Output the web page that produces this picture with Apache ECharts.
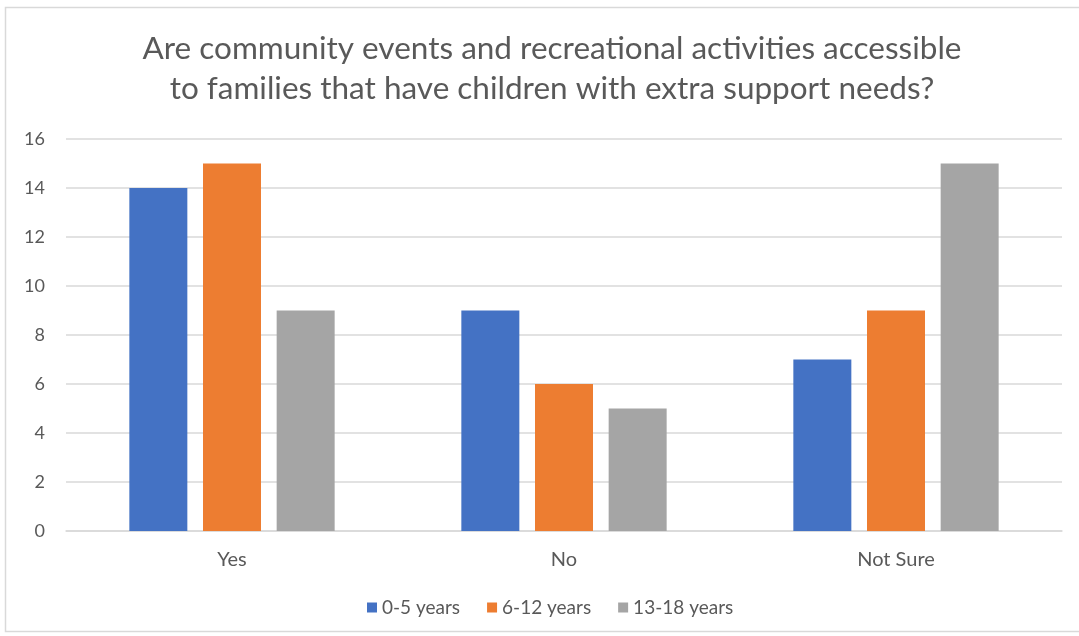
<!DOCTYPE html>
<html>
<head>
<meta charset="utf-8">
<script src="https://cdn.jsdelivr.net/npm/echarts@6/dist/echarts.min.js"></script>
<style>
	html, body { margin: 0; padding: 0; background: #fff; }
	#draw { width: 1079px; height: 636px; }
</style>
</head>
<body>
<div id="draw"></div>
<script>
// data
var categories = ['Yes', 'No', 'Not Sure'];
var seriesNames = ['0-5 years', '6-12 years', '13-18 years'];
var age0to5 = [14, 9, 7];
var age6to12 = [15, 6, 9];
var age13to18 = [9, 5, 15];
var colors = ['#4472C4', '#ED7D31', '#A5A5A5'];

var myChart = echarts.init(document.getElementById('draw'));
var font = 'Lato, "Open Sans", sans-serif';

var makeSeries = function(name, values, color) {
	return {
		name : name,
		type : 'bar',
		data : values,
		barWidth : 58,
		barGap : '27%',
		itemStyle : { color : color }
	};
};

option = {
	animation : false,
	textStyle : { fontFamily : font },
	graphic : [ {
		type : 'rect',
		shape : { x : 5.5, y : 7.5, width : 1080, height : 624 },
		style : { fill : 'none', stroke : '#D9D9D9', lineWidth : 1.5 }
	} ],
	title : {
		text : 'Are community events and recreational activities accessible\nto families that have children with extra support needs?',
		left : 547,
		textAlign : 'center',
		top : 24,
		textStyle : {
			fontFamily : font,
			fontSize : 31.5,
			fontWeight : 'normal',
			color : '#595959',
			lineHeight : 40
		}
	},
	legend : {
		data : seriesNames,
		bottom : 14,
		left : 362,
		itemWidth : 10,
		itemHeight : 10,
		itemGap : 27,
		icon : 'rect',
		textStyle : { fontFamily : font, fontSize : 19, color : '#595959' }
	},
	grid : {
		left : 66,
		right : 17,
		top : 139,
		bottom : 105,
		containLabel : false
	},
	xAxis : {
		type : 'category',
		data : categories,
		axisTick : { show : false },
		axisLine : { lineStyle : { color : '#D9D9D9', width : 1.5 } },
		axisLabel : { fontFamily : font, fontSize : 20, color : '#595959', margin : 19 }
	},
	yAxis : {
		type : 'value',
		min : 0,
		max : 16,
		interval : 2,
		axisLine : { show : false },
		axisTick : { show : false },
		axisLabel : { fontFamily : font, fontSize : 18, color : '#595959', margin : 21 },
		splitLine : { lineStyle : { color : '#D9D9D9', width : 1.5 } }
	},
	series : [
		makeSeries(seriesNames[0], age0to5, colors[0]),
		makeSeries(seriesNames[1], age6to12, colors[1]),
		makeSeries(seriesNames[2], age13to18, colors[2])
	]
};
myChart.setOption(option);
</script>
</body>
</html>
